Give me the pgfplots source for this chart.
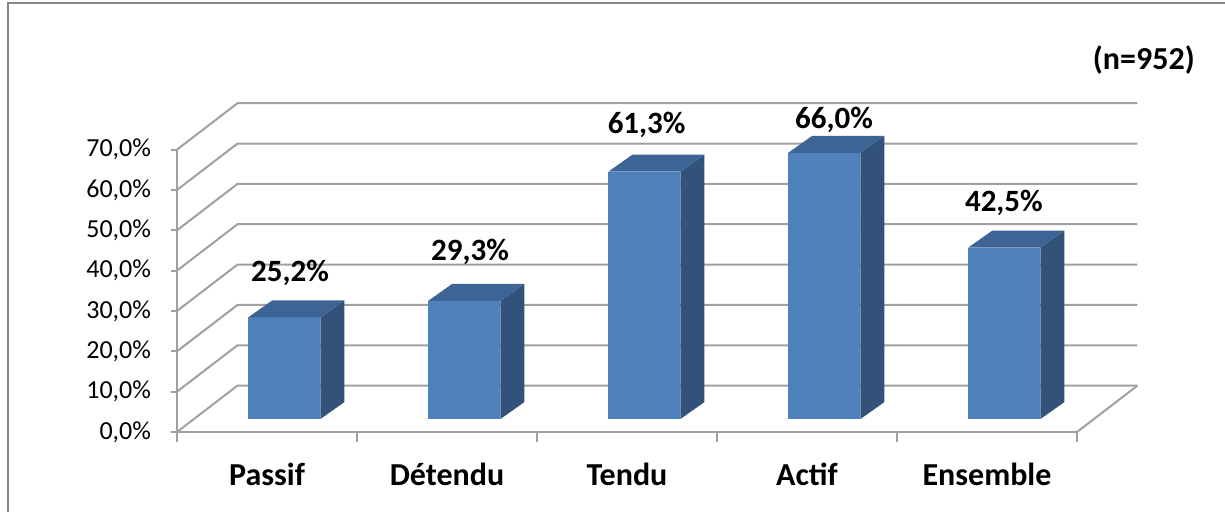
\documentclass[border=0pt]{standalone}
\usepackage{fontspec}
\setmainfont{Carlito}
\usepackage{pgfplots}
\usepackage{pgfplotstable}
\pgfplotsset{compat=1.18}
\definecolor{barfront}{RGB}{79,129,189}
\definecolor{barside}{RGB}{50,82,122}
\definecolor{bartop}{RGB}{61,100,148}
\definecolor{gridc}{RGB}{160,160,160}
\definecolor{framec}{RGB}{134,134,134}

\pgfplotstableread{
i v lx ly
0 25.2 0.628 39.4
1 29.3 1.628 44.6
2 61.3 2.609 76.1
3 66.0 3.650 77.3
4 42.5 4.594 56.7
}\bardata

\begin{document}
\begin{tikzpicture}
\begin{axis}[
  scale only axis, width=450pt, height=141.2pt,
  xmin=0, xmax=5, ymin=0, ymax=70,
  clip=false,
  axis x line*=bottom, axis y line*=left,
  axis line style={gridc, line width=1pt, -},
  ytick={0,10,...,70},
  yticklabels={{0,0\%},{10,0\%},{20,0\%},{30,0\%},{40,0\%},{50,0\%},{60,0\%},{70,0\%}},
  xtick={0.5,1.5,2.5,3.5,4.5},
  xticklabels={Passif,Détendu,Tendu,Actif,Ensemble},
  minor xtick={0,1,2,3,4,5},
  major x tick style=transparent,
  tick style={gridc, line width=1pt},
  tick align=outside,
  major tick length=3pt, minor tick length=5pt,
  yticklabel style={font=\fontsize{13}{15}\selectfont, anchor=east, xshift=-6.5pt},
  xticklabel style={font=\bfseries\fontsize{16}{18}\selectfont, anchor=base, yshift=-23.5pt},
]
% back wall, side wall and floor
\pgfplotsinvokeforeach{0,10,...,70}{
  \pgfmathsetmacro\gy{#1+11.5}
  \addplot[gridc, line width=1pt] coordinates {(0,#1) (0.336,\gy) (5.336,\gy)};
}
\addplot[gridc, line width=1pt] coordinates {(5,0) (5.336,11.5)};
% bars
\pgfplotsinvokeforeach{0,...,4}{
  \pgfplotstablegetelem{#1}{v}\of\bardata
  \pgfmathsetmacro\bT{3.22+\pgfplotsretval}
  \pgfmathsetmacro\bTT{\bT+4.21}
  \pgfmathsetmacro\xa{0.396+#1}
  \pgfmathsetmacro\xb{0.797+#1}
  \pgfmathsetmacro\xc{\xb+0.1333}
  \pgfmathsetmacro\xd{\xa+0.1333}
  \addplot[draw=none, fill=barfront] coordinates {(\xa,3.22) (\xb,3.22) (\xb,\bT) (\xa,\bT)} --cycle;
  \addplot[draw=none, fill=barside] coordinates {(\xb,3.22) (\xc,7.43) (\xc,\bTT) (\xb,\bT)} --cycle;
  \addplot[draw=none, fill=bartop] coordinates {(\xa,\bT) (\xb,\bT) (\xc,\bTT) (\xd,\bTT)} --cycle;
}
% value labels
\addplot[draw=none, point meta=\thisrow{v},
  nodes near coords={\bfseries\fontsize{15.5}{18}\selectfont\pgfmathprintnumber[fixed, fixed zerofill, precision=1, use comma, assume math mode=true]{\pgfplotspointmeta}\%},
  every node near coord/.append style={anchor=center, text=black}]
  table[x=lx, y=ly] {\bardata};
% frame
\addplot[framec, line width=1.2pt] coordinates {(5.9,106.35) (-0.9389,106.35) (-0.9389,-21)};
\node[anchor=east, inner sep=0pt, font=\bfseries\fontsize{16}{18}\selectfont] at (axis cs:5.656,92.2) {(n=952)};
\coordinate (bbA) at (axis cs:-0.98333,107.09);
\coordinate (bbB) at (axis cs:5.82222,-19.83);
\end{axis}
\pgfresetboundingbox
\path[use as bounding box] (bbA) rectangle (bbB);
\end{tikzpicture}
\end{document}
